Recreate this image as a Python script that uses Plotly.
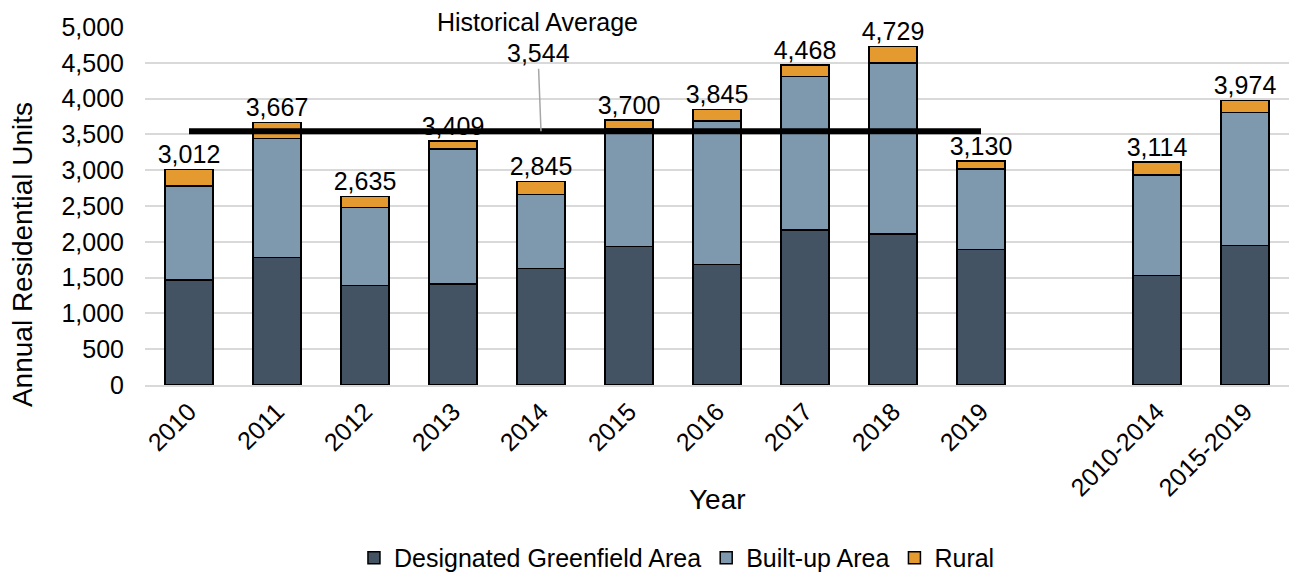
import plotly.graph_objects as go

# ---- data ----
years = ["2010", "2011", "2012", "2013", "2014", "2015", "2016", "2017", "2018", "2019"]
periods = ["2010-2014", "2015-2019"]
greenfield = [1470, 1782, 1387, 1410, 1629, 1931, 1685, 2168, 2112, 1894, 1531, 1950]
built_up = [1310, 1662, 1089, 1885, 1033, 1649, 2005, 2141, 2383, 1121, 1405, 1856]
rural = [232, 223, 159, 114, 183, 120, 155, 159, 234, 115, 178, 168]
hist_avg = 3544

gap = " "
cats = years + [gap] + periods


def with_gap(vals):
    return vals[:len(years)] + [None] + vals[len(years):]


totals = [g + b + r for g, b, r in zip(greenfield, built_up, rural)]

FONT = "Liberation Sans"
C_DGA = "#435364"
C_BUA = "#7E99AD"
C_RUR = "#E59A2F"

fig = go.Figure()
for name, vals, col in [("Designated Greenfield Area", greenfield, C_DGA),
                        ("Built-up Area", built_up, C_BUA),
                        ("Rural", rural, C_RUR)]:
    fig.add_trace(go.Bar(
        x=cats, y=with_gap(vals), name=name,
        marker=dict(color=col, line=dict(color="black", width=1.5)),
    ))

# historical average line
fig.add_trace(go.Scatter(
    x=[years[0], years[-1]], y=[hist_avg, hist_avg], mode="lines",
    line=dict(color="black", width=6), showlegend=False,
))

# total labels
lab_x = years + periods
fig.add_trace(go.Scatter(
    x=lab_x, y=totals, mode="text",
    text=[f"{t:,}" for t in totals], textposition="top center",
    textfont=dict(size=25, color="black", family=FONT),
    showlegend=False, cliponaxis=False,
))

fig.update_layout(
    width=1289, height=573,
    margin=dict(l=145, r=0, t=27, b=188, autoexpand=False),
    barmode="stack", bargap=0.455,
    plot_bgcolor="white", paper_bgcolor="white",
    font=dict(family=FONT, size=25, color="black"),
    legend=dict(orientation="h", x=0.465, xanchor="center", y=-0.483,
                yanchor="middle", font=dict(size=25, family=FONT),
                traceorder="normal"),
)
fig.update_xaxes(
    type="category", categoryorder="array", categoryarray=cats,
    range=[-0.5, len(cats) - 0.5],
    tickangle=-45, tickfont=dict(size=25, family=FONT),
    showline=True, linecolor="#D9D9D9", linewidth=2, showgrid=False,
)
fig.update_yaxes(
    range=[0, 5000], dtick=500, tickformat=",", showgrid=True,
    gridcolor="#D9D9D9", gridwidth=2, zeroline=False,
    tickfont=dict(size=25, family=FONT), ticklabelstandoff=20,
)

fig.add_annotation(
    x=years.index("2014"), y=hist_avg, xref="x", yref="y",
    text=f"{hist_avg:,}", showarrow=True, arrowhead=0, arrowwidth=1.5,
    arrowcolor="#A6A6A6", ax=-3, ay=-78, standoff=0,
    font=dict(size=25, color="black", family=FONT),
)
fig.add_annotation(
    x=years.index("2014"), y=hist_avg, xref="x", yref="y",
    text="Historical Average", showarrow=False, yshift=109, xshift=-4,
    font=dict(size=25, color="black", family=FONT),
)
fig.add_annotation(
    text="Annual Residential Units", xref="paper", yref="paper",
    x=-0.1075, y=0.363, xanchor="center", yanchor="middle",
    showarrow=False, textangle=-90,
    font=dict(size=28, color="black", family=FONT),
)
fig.add_annotation(
    text="Year", xref="paper", yref="paper", x=0.5, y=-0.321,
    xanchor="center", yanchor="middle",
    showarrow=False, font=dict(size=28, color="black", family=FONT),
)

fig.write_html("out.html", config={"displayModeBar": False},
               post_script="document.body.style.margin='0';document.body.style.overflow='hidden';")
